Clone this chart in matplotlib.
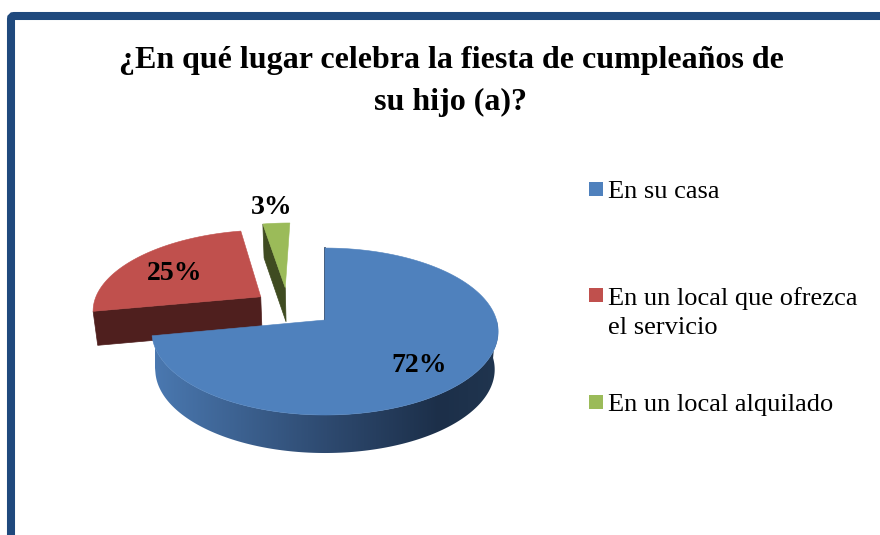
import matplotlib
matplotlib.use('Agg')
import matplotlib.pyplot as plt
import numpy as np
from matplotlib.colors import LinearSegmentedColormap
from matplotlib.patches import FancyBboxPatch, Polygon, Rectangle

plt.rcParams['font.family'] = ['Liberation Serif', 'DejaVu Serif']

# datos
titulo = '¿En qué lugar celebra la fiesta de cumpleaños de\nsu hijo (a)?'
categorias = ['En su casa', 'En un local que ofrezca\nel servicio', 'En un local alquilado']
valores = [72, 25, 3]

colores = ['#4f81bd', '#c0504d', '#9bbb59']
paredes = ['#1f3450', '#4f1f1e', '#3f4b21']
desplaza = [(0, 0), (-0.39, 0.295), (-0.245, 0.416)]
alturas = [38, 34, 34]
pos_etiqueta = [(419, 365), (175, 273), (272, 207)]
pos_leyenda = [182, 288, 395]

CX, CY, RX, A, K = 325, 320, 171.5, 81.9, 0.138
ESC = 0.98


# disco unitario -> pixeles con un poco de perspectiva
def proy(u, v, alto=0):
    d = 1 + K * v
    x = CX + RX * u / d
    y = CY - A * v / d
    if alto:
        x = CX + (x - CX) * ESC
        y = y + alto
    return np.column_stack([x, y])


def borde(t1, t2, off):
    t = np.radians(np.linspace(t1, t2, 200))
    return np.sin(t) + off[0], np.cos(t) + off[1]


fig = plt.figure(figsize=(8.8, 5.35), dpi=100)
ax = fig.add_axes([0, 0, 1, 1])
ax.set_xlim(0, 880)
ax.set_ylim(535, 0)
ax.axis('off')

# marco
ax.add_patch(FancyBboxPatch((11, 16), 1000, 700, boxstyle='round,pad=0,rounding_size=3',
                            fc='white', ec='#1f497d', lw=5.8, zorder=1))

ax.text(451, 68, titulo.split('\n')[0], ha='center', va='baseline', fontsize=23, fontweight='bold', zorder=5)
ax.text(451, 110, titulo.split('\n')[1], ha='center', va='baseline', fontsize=23, fontweight='bold', zorder=5)

# angulos de cada sector (sentido horario desde arriba)
fin = np.cumsum(valores) / np.sum(valores) * 360
ini = np.r_[0, fin[:-1]]

# primero rojo y verde, el azul va delante
for i in [1, 2, 0]:
    off = desplaza[i]
    z = 3 if i == 0 else 2
    u, v = borde(ini[i], fin[i], off)
    tapa = np.vstack([proy(np.array([off[0]]), np.array([off[1]])), proy(u, v)])

    if i == 0:
        # lado curvo con degradado
        u2, v2 = borde(90, fin[i], off)
        lado = np.vstack([proy(u2, v2), proy(u2, v2, alturas[i])[::-1]])
        cm = LinearSegmentedColormap.from_list('lado', [(0, '#4a78b0'), (0.5, '#2e4a70'),
                                                        (0.83, '#1c2f49'), (1, '#20354f')])
        im = ax.imshow(np.linspace(0, 1, 256)[None, :], cmap=cm, extent=[155, 498, 470, 300],
                       aspect='auto', zorder=z)
        im.set_clip_path(Polygon(lado, transform=ax.transData))
        ax.set_xlim(0, 880)
        ax.set_ylim(535, 0)
        ax.plot(tapa[:2, 0], tapa[:2, 1], color=paredes[0], lw=1.2, zorder=z)
    else:
        # pared recta del sector
        t = np.radians(ini[i])
        ur = np.array([off[0], off[0] + np.sin(t)])
        vr = np.array([off[1], off[1] + np.cos(t)])
        pared = np.vstack([proy(ur, vr), proy(ur, vr, alturas[i])[::-1]])
        ax.add_patch(Polygon(pared, fc=paredes[i], ec=paredes[i], lw=0.5, zorder=z))

    ax.add_patch(Polygon(tapa, fc=colores[i], ec=colores[i], lw=0.4, zorder=z + 0.1))

for i in range(3):
    x, y = pos_etiqueta[i]
    ax.text(x, y, '%d%%' % valores[i], ha='center', va='center', fontsize=20, fontweight='bold', zorder=6)

# leyenda
for i in range(3):
    y = pos_leyenda[i]
    ax.add_patch(Rectangle((589, y), 14, 14, fc=colores[i], ec='none', zorder=5))
    for j, linea in enumerate(categorias[i].split('\n')):
        ax.text(608, y + 16.5 + j * 29, linea, ha='left', va='baseline', fontsize=19, zorder=5)

fig.savefig('out.png', dpi=100)
